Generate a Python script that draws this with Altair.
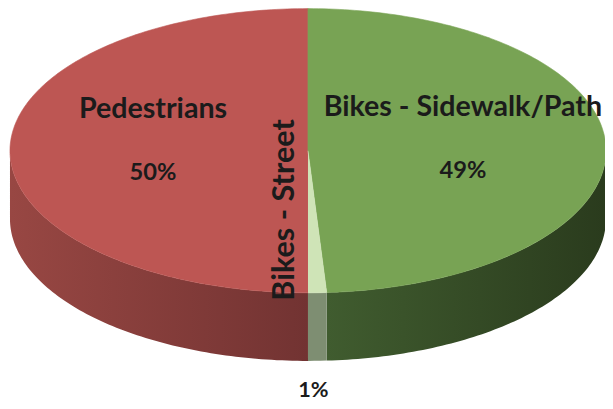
import altair as alt
import numpy as np
import pandas as pd

categories = ["Pedestrians", "Bikes - Sidewalk/Path", "Bikes - Street"]
shares = [50, 49, 1]
pct_labels = ["50%", "49%", "1%"]

top_colors = ["#BD5653", "#78A354", "#CFE4B7"]
wall_left = ["#984743", "#405C2F", "#7E8E72"]
wall_right = ["#723332", "#2A3B1D", "#7E8E72"]

W, H = 605, 393
CX, CY, RX, RY, DEPTH = 312, 150, 302, 144, 69
START = 180  # first slice starts at 6 o'clock, clockwise


def rim(deg, drop=0.0):
    r = np.radians(deg)
    return CX + RX * np.sin(r), CY - RY * np.cos(r) + drop


faces, walls, flat_labels, rot_labels = [], [], [], []
a0 = START
for i, (cat, share) in enumerate(zip(categories, shares)):
    span = share * 3.6
    a1 = a0 + span

    # top face
    pts = [(CX, CY)] + [rim(a) for a in np.linspace(a0, a1, max(int(span), 2) + 1)]
    for k, (x, y) in enumerate(pts):
        faces.append(dict(poly=cat, k=k, x=x, y=y, color=top_colors[i]))

    # front wall: the part of the rim between 90 and 270 degrees
    lo = a0 % 360
    hi = lo + span
    lo_v, hi_v = max(lo, 90), min(hi, 270)
    if hi_v > lo_v:
        arc = np.linspace(lo_v, hi_v, max(int(hi_v - lo_v), 2) + 1)
        pts = [rim(a) for a in arc] + [rim(a, DEPTH) for a in arc[::-1]]
        for k, (x, y) in enumerate(pts):
            walls.append(dict(poly=cat, k=k, x=x, y=y))

    # labels
    mid = (a0 + a1) / 2
    if share >= 5:
        lx = CX + 0.52 * RX * np.sin(np.radians(mid))
        ly = CY - 0.52 * RY * np.cos(np.radians(mid))
        flat_labels.append(dict(text=cat, x=lx, y=ly - 33, size=29))
        flat_labels.append(dict(text=pct_labels[i], x=lx, y=ly + 30, size=24))
    else:
        rot_labels.append(dict(text=cat, x=CX - 14, y=CY + 60, size=31))
        flat_labels.append(dict(text=pct_labels[i], x=rim(mid)[0] - 4, y=CY + RY + DEPTH + 37, size=22))
    a0 = a1

faces = pd.DataFrame(faces)
walls = pd.DataFrame(walls)
flat_labels = pd.DataFrame(flat_labels)
rot_labels = pd.DataFrame(rot_labels)

xs = alt.X("x:Q", scale=alt.Scale(domain=[8, 8 + W], nice=False, zero=False), axis=None)
ys = alt.Y("y:Q", scale=alt.Scale(domain=[8, 8 + H], nice=False, zero=False, reverse=True), axis=None)


def wall(i):
    shade = alt.Gradient(
        gradient="linear", x1=0, x2=1, y1=0, y2=0,
        stops=[alt.GradientStop(offset=0, color=wall_left[i]),
               alt.GradientStop(offset=1, color=wall_right[i])],
    )
    return alt.Chart(walls).transform_filter(
        alt.datum.poly == categories[i]
    ).mark_line(filled=True, color=shade, strokeWidth=0).encode(
        x=xs, y=ys, order="k:Q"
    )


tops = alt.Chart(faces).mark_line(filled=True, strokeWidth=0.6).encode(
    x=xs,
    y=ys,
    order="k:Q",
    detail="poly:N",
    color=alt.Color("color:N", scale=None),
    stroke=alt.Stroke("color:N", scale=None),
)


def texts(df, angle=0):
    return alt.Chart(df).mark_text(
        font="Lato", fontWeight="bold", color="#1b1b1b", align="center",
        baseline="alphabetic", angle=angle,
    ).encode(x=xs, y=ys, text="text:N", size=alt.Size("size:Q", scale=None))


chart = alt.layer(
    *[wall(i) for i in range(len(categories))],
    tops,
    texts(flat_labels),
    texts(rot_labels, angle=270),
).properties(
    width=W, height=H, padding=0, autosize="none", background="white"
).configure_view(stroke=None)

chart.save("out.html", embed_options={"renderer": "svg", "actions": False})
